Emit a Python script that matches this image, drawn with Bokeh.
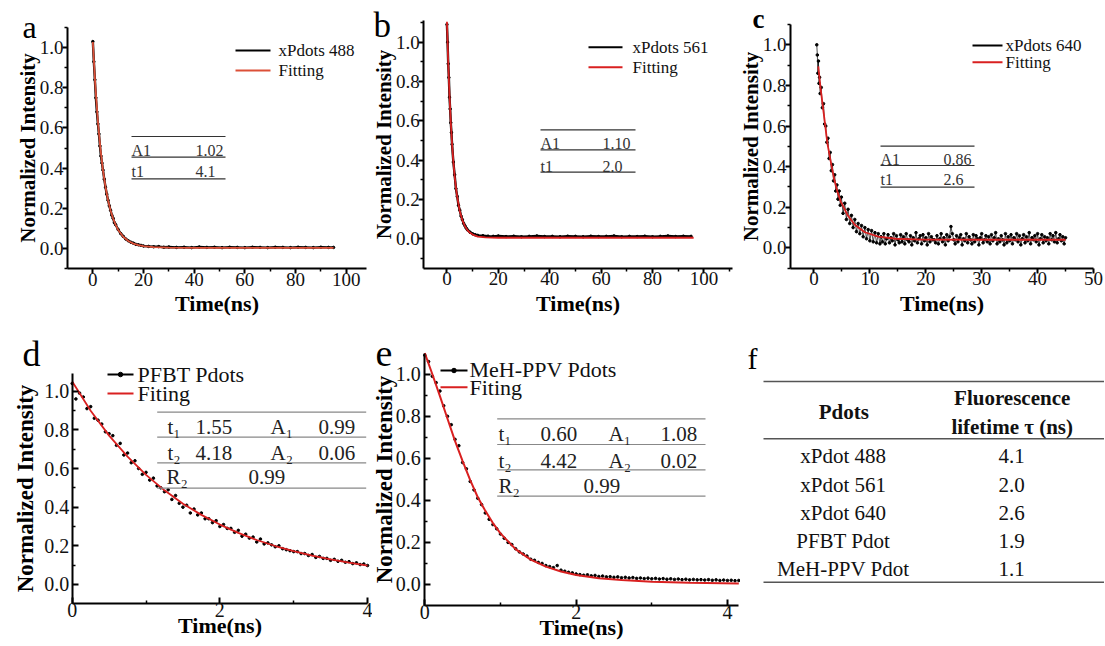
from bokeh.plotting import figure
from bokeh.layouts import row, column
from bokeh.models import Range1d, FixedTicker, PrintfTickFormatter
from bokeh.core.properties import value
from bokeh.embed import file_html
from bokeh.resources import INLINE

SERIF = "Liberation Serif"

# ---------------- data ----------------
# panel a : xPdots 488
a_t = [0, 0.4, 0.8, 1.2, 1.6, 2.0, 2.4, 2.8, 3.2, 3.6, 4.0, 4.5, 5.0, 5.5, 6.0, 6.5, 7.0, 7.5, 8.0, 8.5,
       9.0, 10, 11, 12, 13, 14, 15, 16, 17, 18, 19, 20, 22, 24, 26, 28, 30, 33, 36, 39,
       42, 45, 48, 51, 54, 57, 60, 63, 66, 69, 72, 75, 78, 81, 84, 87, 90, 93, 95]
a_y = [1.03, 0.93, 0.84, 0.75, 0.68, 0.62, 0.57, 0.51, 0.46, 0.425, 0.39, 0.345, 0.305, 0.27, 0.24, 0.212, 0.19, 0.165, 0.15, 0.128,
       0.118, 0.094, 0.074, 0.06, 0.047, 0.038, 0.031, 0.026, 0.02, 0.018, 0.015, 0.012, 0.01, 0.008, 0.009, 0.006, 0.007, 0.005, 0.006, 0.004,
       0.007, 0.005, 0.006, 0.004, 0.006, 0.005, 0.004, 0.006, 0.005, 0.004, 0.006, 0.005, 0.004, 0.006, 0.005, 0.004, 0.006, 0.005, 0.005]
a_fit_t = [0, 1, 2, 3, 4, 5, 6, 7, 8, 9, 10, 12, 14, 16, 18, 20, 24, 30, 40, 60, 80, 95]
a_fit_y = [1.028, 0.806, 0.632, 0.496, 0.389, 0.306, 0.240, 0.189, 0.149, 0.117, 0.092, 0.058, 0.037, 0.024,
           0.016, 0.011, 0.006, 0.004, 0.003, 0.003, 0.003, 0.003]
a_param_names = ["A1", "t1"]
a_param_values = ["1.02", "4.1"]

# panel b : xPdots 561
b_t = [0, 0.25, 0.5, 0.75, 1.0, 1.25, 1.5, 1.75, 2.0, 2.5, 3.0, 3.5, 4.0, 4.5, 5.0, 5.5, 6.0, 6.5, 7.0, 7.5, 8.0,
       9, 10, 11, 12, 14, 16, 18, 20, 23, 26, 29, 32, 35, 38, 41, 44, 47, 50, 53, 56, 59, 62, 65, 68, 71, 74, 77,
       80, 83, 86, 89, 92, 95]
b_y = [1.09, 1.00, 0.89, 0.82, 0.72, 0.66, 0.59, 0.54, 0.48, 0.39, 0.325, 0.255, 0.215, 0.17, 0.145, 0.115, 0.097, 0.078, 0.066, 0.054, 0.045,
       0.033, 0.025, 0.02, 0.017, 0.015, 0.013, 0.012, 0.014, 0.011, 0.013, 0.01, 0.012, 0.014, 0.011, 0.012, 0.01, 0.013, 0.012, 0.01, 0.013,
       0.011, 0.012, 0.014, 0.01, 0.012, 0.011, 0.013, 0.01, 0.012, 0.014, 0.011, 0.013, 0.012]
b_fit_t = [0, 0.5, 1, 1.5, 2, 2.5, 3, 3.5, 4, 5, 6, 7, 8, 9, 10, 12, 15, 20, 40, 60, 80, 96]
b_fit_y = [1.104, 0.897, 0.729, 0.593, 0.482, 0.392, 0.319, 0.260, 0.212, 0.141, 0.094, 0.064, 0.043, 0.030,
           0.021, 0.011, 0.007, 0.005, 0.005, 0.005, 0.005, 0.005]
b_param_names = ["A1", "t1"]
b_param_values = ["1.10", "2.0"]

# panel c : xPdots 640 (decay part, then the noisy plateau)
c_t = [0.5, 0.6, 0.7, 0.8, 0.9, 1.0, 1.1, 1.3, 1.5, 1.7, 1.9, 2.1, 2.3, 2.5, 2.7, 2.9, 3.1, 3.3, 3.5, 3.7,
       3.9, 4.1, 4.3, 4.5, 4.7, 4.9, 5.2, 5.5, 5.8, 6.1, 6.4, 6.7, 7.0, 7.3, 7.6, 7.9, 8.2, 8.5, 8.8, 9.1,
       9.4, 9.7, 10.0, 10.3, 10.6, 10.9, 11.2, 11.5, 11.8]
c_y = [1.00, 0.95, 0.86, 0.92, 0.81, 0.84, 0.76, 0.79, 0.69, 0.71, 0.61, 0.60, 0.52, 0.54, 0.44, 0.47, 0.38, 0.41, 0.33, 0.36,
       0.28, 0.31, 0.24, 0.28, 0.21, 0.25, 0.17, 0.22, 0.14, 0.19, 0.12, 0.16, 0.10, 0.14, 0.08, 0.12, 0.07, 0.11, 0.055, 0.10,
       0.045, 0.09, 0.035, 0.085, 0.03, 0.075, 0.025, 0.07, 0.02]
c_tail_t = [12.0, 12.25, 12.5, 12.75, 13.0, 13.25, 13.5, 13.75, 14.0, 14.25,
            14.5, 14.75, 15.0, 15.25, 15.5, 15.75, 16.0, 16.25, 16.5, 16.75,
            17.0, 17.25, 17.5, 17.75, 18.0, 18.25, 18.5, 18.75, 19.0, 19.25,
            19.5, 19.75, 20.0, 20.25, 20.5, 20.75, 21.0, 21.25, 21.5, 21.75,
            22.0, 22.25, 22.5, 22.75, 23.0, 23.25, 23.5, 23.75, 24.0, 24.25,
            24.5, 24.75, 25.0, 25.25, 25.5, 25.75, 26.0, 26.25, 26.5, 26.75,
            27.0, 27.25, 27.5, 27.75, 28.0, 28.25, 28.5, 28.75, 29.0, 29.25,
            29.5, 29.75, 30.0, 30.25, 30.5, 30.75, 31.0, 31.25, 31.5, 31.75,
            32.0, 32.25, 32.5, 32.75, 33.0, 33.25, 33.5, 33.75, 34.0, 34.25,
            34.5, 34.75, 35.0, 35.25, 35.5, 35.75, 36.0, 36.25, 36.5, 36.75,
            37.0, 37.25, 37.5, 37.75, 38.0, 38.25, 38.5, 38.75, 39.0, 39.25,
            39.5, 39.75, 40.0, 40.25, 40.5, 40.75, 41.0, 41.25, 41.5, 41.75,
            42.0, 42.25, 42.5, 42.75, 43.0, 43.25, 43.5, 43.75, 44.0, 44.25,
            44.5, 44.75, 45.0]
c_tail_y = [0.055, 0.03, 0.07, 0.02, 0.045, 0.065, 0.025, 0.05, 0.035, 0.07,
            0.015, 0.06, 0.04, 0.025, 0.065, 0.03, 0.055, 0.02, 0.07, 0.04,
            0.03, 0.06, 0.015, 0.05, 0.035, 0.075, 0.025, 0.045, 0.06, 0.02,
            0.065, 0.035, 0.05, 0.015, 0.07, 0.03, 0.055, 0.04, 0.04, 0.025,
            0.06, 0.02, 0.045, 0.07, 0.03, 0.05, 0.015, 0.065, 0.035, 0.055,
            0.105, 0.07, 0.04, 0.02, 0.06, 0.03, 0.05, 0.065, 0.015, 0.045,
            0.035, 0.07, 0.025, 0.055, 0.04, 0.02, 0.065, 0.03, 0.06, 0.045,
            0.015, 0.05, 0.07, 0.025, 0.04, 0.06, 0.03, 0.055, 0.02, 0.065,
            0.035, 0.05, 0.075, 0.02, 0.045, 0.03, 0.06, 0.04, 0.015, 0.07,
            0.025, 0.055, 0.035, 0.065, 0.02, 0.05, 0.04, 0.07, 0.03, 0.06,
            0.015, 0.045, 0.065, 0.025, 0.055, 0.035, 0.075, 0.02, 0.05, 0.04,
            0.06, 0.03, 0.07, 0.015, 0.045, 0.065, 0.025, 0.055, 0.035, 0.05,
            0.02, 0.07, 0.04, 0.06, 0.03, 0.075, 0.025, 0.045, 0.065, 0.035,
            0.055, 0.02, 0.05]
c_fit_t = [0.77, 1.2, 1.8, 2.4, 3.0, 3.6, 4.2, 4.8, 6.0, 7.3, 9.1, 11.5, 14.6, 19.5, 30, 45]
c_fit_y = [0.894, 0.78, 0.65, 0.515, 0.425, 0.34, 0.276, 0.228, 0.162, 0.114, 0.077, 0.056, 0.045, 0.041, 0.04, 0.04]
c_param_names = ["A1", "t1"]
c_param_values = ["0.86", "2.6"]

# panel d : PFBT Pdots
d_t = [0.0, 0.05, 0.1, 0.15, 0.2, 0.25, 0.3, 0.35, 0.4, 0.45, 0.5, 0.55, 0.6, 0.65, 0.7, 0.75, 0.8, 0.85, 0.9, 0.95,
       1.0, 1.05, 1.1, 1.15, 1.2, 1.25, 1.3, 1.35, 1.4, 1.45, 1.5, 1.55, 1.6, 1.65, 1.7, 1.75, 1.8, 1.85, 1.9, 1.95,
       2.0, 2.05, 2.1, 2.15, 2.2, 2.25, 2.3, 2.35, 2.4, 2.45, 2.5, 2.55, 2.6, 2.65, 2.7, 2.75, 2.8, 2.85, 2.9, 2.95,
       3.0, 3.05, 3.1, 3.15, 3.2, 3.25, 3.3, 3.35, 3.4, 3.45, 3.5, 3.55, 3.6, 3.65, 3.7, 3.75, 3.8, 3.85, 3.9, 3.95, 4.0]
d_y = [1.04, 0.96, 0.99, 0.97, 0.91, 0.92, 0.86, 0.85, 0.83, 0.79, 0.78, 0.77, 0.72, 0.73, 0.67, 0.68, 0.63, 0.64, 0.60, 0.57,
       0.58, 0.54, 0.55, 0.51, 0.50, 0.48, 0.49, 0.44, 0.46, 0.42, 0.40, 0.41, 0.37, 0.39, 0.36, 0.37, 0.34, 0.34, 0.32, 0.33,
       0.30, 0.31, 0.29, 0.29, 0.27, 0.28, 0.25, 0.26, 0.24, 0.245, 0.22, 0.235, 0.21, 0.215, 0.205, 0.195, 0.2, 0.185, 0.18, 0.175,
       0.17, 0.17, 0.16, 0.16, 0.15, 0.155, 0.14, 0.145, 0.135, 0.135, 0.125, 0.13, 0.12, 0.125, 0.115, 0.118, 0.108, 0.112, 0.103, 0.106, 0.098]
d_fit_t = [0, 0.25, 0.5, 0.75, 1.0, 1.25, 1.5, 1.75, 2.0, 2.25, 2.5, 2.75, 3.0, 3.25, 3.5, 3.75, 4.0]
d_fit_y = [1.050, 0.899, 0.770, 0.661, 0.567, 0.487, 0.418, 0.360, 0.310, 0.267, 0.230, 0.199, 0.172, 0.149, 0.130, 0.113, 0.098]
d_params = [["t\u2081", "1.55", "A\u2081", "0.99"], ["t\u2082", "4.18", "A\u2082", "0.06"], ["R\u2082", "0.99"]]

# panel e : MeH-PPV Pdots
e_t = [0.0, 0.05, 0.1, 0.15, 0.2, 0.25, 0.3, 0.35, 0.4, 0.45, 0.5, 0.55, 0.6, 0.65, 0.7, 0.75, 0.8, 0.85, 0.9, 0.95,
       1.0, 1.05, 1.1, 1.15, 1.2, 1.25, 1.3, 1.35, 1.4, 1.45, 1.5, 1.55, 1.6, 1.65, 1.7, 1.75, 1.8, 1.85, 1.9, 1.95,
       2.0, 2.05, 2.1, 2.15, 2.2, 2.25, 2.3, 2.35, 2.4, 2.45, 2.5, 2.55, 2.6, 2.65, 2.7, 2.75, 2.8, 2.85, 2.9, 2.95,
       3.0, 3.05, 3.1, 3.15, 3.2, 3.25, 3.3, 3.35, 3.4, 3.45, 3.5, 3.55, 3.6, 3.65, 3.7, 3.75, 3.8, 3.85, 3.9, 3.95,
       4.0, 4.05, 4.1, 4.15]
e_y = [1.09, 1.06, 0.99, 0.96, 0.92, 0.85, 0.80, 0.76, 0.69, 0.66, 0.58, 0.55, 0.49, 0.45, 0.41, 0.38, 0.34, 0.31, 0.285, 0.265,
       0.24, 0.22, 0.2, 0.19, 0.17, 0.155, 0.145, 0.135, 0.12, 0.115, 0.105, 0.1, 0.09, 0.085, 0.08, 0.09, 0.068, 0.063, 0.058, 0.055,
       0.05, 0.047, 0.044, 0.046, 0.041, 0.043, 0.038, 0.04, 0.036, 0.037, 0.034, 0.036, 0.032, 0.034, 0.031, 0.033, 0.029, 0.031, 0.028, 0.03,
       0.027, 0.029, 0.026, 0.028, 0.025, 0.027, 0.024, 0.026, 0.023, 0.025, 0.022, 0.024, 0.022, 0.023, 0.021, 0.023, 0.02, 0.022, 0.019, 0.021,
       0.019, 0.02, 0.018, 0.019]
e_fit_t = [0, 0.1, 0.2, 0.3, 0.4, 0.5, 0.6, 0.7, 0.8, 0.9, 1.0, 1.2, 1.4, 1.6, 1.8, 2.0, 2.3, 2.6, 3.0, 3.5, 4.15]
e_fit_y = [1.10, 1.00, 0.896, 0.788, 0.682, 0.587, 0.496, 0.415, 0.35, 0.292, 0.243, 0.168, 0.118, 0.085, 0.062,
           0.045, 0.030, 0.021, 0.013, 0.008, 0.005]
e_params = [["t\u2081", "0.60", "A\u2081", "1.08"], ["t\u2082", "4.42", "A\u2082", "0.02"], ["R\u2082", "0.99"]]

# panel f : table
pdot_names = ["xPdot 488", "xPdot 561", "xPdot 640", "PFBT Pdot", "MeH-PPV Pdot"]
pdot_lifetimes = [4.1, 2.0, 2.6, 1.9, 1.1]

series_names = ["xPdots 488", "xPdots 561", "xPdots 640", "PFBT Pdots", "MeH-PPV Pdots"]

# ---------------- geometry ----------------
# figure extent on the page (x0, x1, y0, y1) and axis box on the page (L, R, T, B) with its data ranges
FIG = {
    "a": (0, 368, 0, 316), "b": (368, 735, 0, 316), "c": (735, 1104, 0, 316),
    "d": (0, 372, 316, 645), "e": (372, 740, 316, 645),
}
FR = {
    "a": (67, 366, 27, 268, -10, 108, -0.1, 1.1),
    "b": (423.3, 731.7, 20, 267.7, -9, 111, -0.15, 1.11),
    "c": (790, 1093, 24, 267.7, -4.2, 50, -0.1, 1.1),
    "d": (71.7, 367, 373.3, 603.3, 0, 4, -0.1, 1.09),
    "e": (424.3, 738.3, 352.7, 605, 0, 4.15, -0.1, 1.1),
}
MAP = {}


def make_panel(key, xticks, xminor, yticks, yminor, top):
    fx0, fx1, fy0, fy1 = FIG[key]
    L, R, T, B, x0, x1, y0, y1 = FR[key]
    sx = (x1 - x0) / (R - L)
    sy = (y1 - y0) / (B - T)
    xs, xe = x0 - (L - fx0) * sx, x1 + (fx1 - R) * sx
    ys, ye = y0 - (fy1 - B) * sy, y1 + (T - fy0) * sy
    MAP[key] = (lambda px: xs + (px - fx0) * sx, lambda py: ye - (py - fy0) * sy)
    p = figure(width=fx1 - fx0, height=fy1 - fy0, x_range=Range1d(xs, xe), y_range=Range1d(ys, ye),
               output_backend="svg", toolbar_location=None,
               min_border_left=0, min_border_right=0, min_border_top=0, min_border_bottom=0,
               background_fill_color="white", border_fill_color="white")
    p.grid.visible = False
    p.outline_line_color = None
    p.xaxis.fixed_location = y0
    p.xaxis.bounds = (x0, x1)
    p.yaxis.fixed_location = x0
    p.yaxis.bounds = (y0, y1)
    p.xaxis.ticker = FixedTicker(ticks=xticks, minor_ticks=xminor)
    p.yaxis.ticker = FixedTicker(ticks=yticks, minor_ticks=yminor)
    p.xaxis.formatter = PrintfTickFormatter(format="%d")
    p.yaxis.formatter = PrintfTickFormatter(format="%.1f")
    p.xaxis.axis_label = "Time(ns)"
    p.yaxis.axis_label = "Normalized Intensity"
    for ax in [p.xaxis[0], p.yaxis[0]]:
        ax.axis_line_width = 2
        ax.axis_line_color = "black"
        ax.major_tick_line_width = 2
        ax.minor_tick_line_width = 1.5
        ax.major_tick_line_color = "black"
        ax.minor_tick_line_color = "black"
        ax.major_label_text_font = SERIF
        ax.major_label_text_color = "#111111"
        ax.axis_label_text_font = SERIF
        ax.axis_label_text_font_style = "bold"
        ax.axis_label_text_color = "black"
        if top:
            ax.major_tick_out, ax.major_tick_in = 5, 0
            ax.minor_tick_out, ax.minor_tick_in = 3, 0
            ax.major_label_text_font_size = "19px"
        else:
            ax.major_tick_out, ax.major_tick_in = 0, 6
            ax.minor_tick_out, ax.minor_tick_in = 0, 3
            ax.major_label_text_font_size = "20px"
    if top:
        p.xaxis.major_label_standoff = -1
        p.xaxis.axis_label_standoff = 2
        p.xaxis.axis_label_text_font_size = "22px"
        p.yaxis.major_label_standoff = -1
        p.yaxis.axis_label_standoff = -3
        p.yaxis.axis_label_text_font_size = "21px"
    else:
        p.xaxis.major_label_standoff = -1
        p.xaxis.axis_label_standoff = -7
        p.xaxis.axis_label_text_font_size = "22px"
        p.yaxis.major_label_standoff = 3 if key == "d" else 4
        p.yaxis.axis_label_standoff = 4 if key == "d" else -4
        p.yaxis.axis_label_text_font_size = "23px"
    return p


def texts(p, key, xs, ys, labels, size, color="#111111", align="left", style="normal"):
    fx, fy = MAP[key]
    p.text(x=[fx(x) for x in xs], y=[fy(y) for y in ys], text=labels, text_font=value(SERIF),
           text_font_size=f"{size}px", text_font_style=style, text_color=color,
           text_baseline="middle", text_align=align)


def hlines(p, key, ys, x0, x1, color, width):
    fx, fy = MAP[key]
    n = len(ys)
    p.segment(x0=[fx(x0)] * n, y0=[fy(y) for y in ys], x1=[fx(x1)] * n, y1=[fy(y) for y in ys],
              line_color=color, line_width=width)


def legend(p, key, x0, x1, xt, ys, tys, labels, colors, size, dots=False):
    fx, fy = MAP[key]
    p.segment(x0=[fx(x0)] * len(ys), y0=[fy(y) for y in ys], x1=[fx(x1)] * len(ys), y1=[fy(y) for y in ys],
              line_color=colors, line_width=2)
    if dots:
        p.scatter(x=[fx((x0 + x1) / 2)], y=[fy(ys[0])], size=4.5, color=colors[0])
    texts(p, key, [xt] * len(ys), tys, labels, size)


yt = [0.0, 0.2, 0.4, 0.6, 0.8, 1.0]
ym = [-0.1, 0.1, 0.3, 0.5, 0.7, 0.9, 1.1]
ym2 = [0.1, 0.3, 0.5, 0.7, 0.9]

RED_A = "#dc5038"
RED = "#d92020"

# ---- panel a
pa = make_panel("a", [0, 20, 40, 60, 80, 100], [10, 30, 50, 70, 90], yt, ym, True)
pa.line(a_t, a_y, line_color="black", line_width=2.4)
pa.scatter(a_t, a_y, size=2.5, color="black")
pa.line(a_fit_t, a_fit_y, line_color=RED_A, line_width=1.8)
legend(pa, "a", 235, 270, 278, [50, 70], [49.5, 70], [series_names[0], "Fitting"], ["black", RED_A], 17)
hlines(pa, "a", [136, 156.7, 178.3], 131, 225, "#333333", 1.2)
texts(pa, "a", [131, 195, 131, 195], [150.3, 150.3, 170.5, 170.5],
      [a_param_names[0], a_param_values[0], a_param_names[1], a_param_values[1]], 16, "#333333")
texts(pa, "a", [22], [26.5], ["a"], 32, "black")

# ---- panel b
pb = make_panel("b", [0, 20, 40, 60, 80, 100], [10, 30, 50, 70, 90, 110], yt, ym, True)
pb.line(b_t, b_y, line_color="black", line_width=2.4)
pb.scatter(b_t, b_y, size=2.5, color="black")
pb.line(b_fit_t, b_fit_y, line_color=RED, line_width=1.8)
legend(pb, "b", 588, 622, 632, [46.7, 66.7], [46.5, 66.5], [series_names[1], "Fitting"], ["black", RED], 17)
hlines(pb, "b", [129.3, 149.3, 171.7], 540, 635, "#333333", 1.2)
texts(pb, "b", [540, 602, 540, 602], [143, 143, 166, 166],
      [b_param_names[0], b_param_values[0], b_param_names[1], b_param_values[1]], 16, "#333333")
texts(pb, "b", [373], [25], ["b"], 35, "black")

# ---- panel c
pc = make_panel("c", [0, 10, 20, 30, 40, 50], [5, 15, 25, 35, 45], yt, ym, True)
pc.line(c_t + c_tail_t, c_y + c_tail_y, line_color="black", line_width=0.7)
pc.scatter(c_t + c_tail_t, c_y + c_tail_y, size=2.6, color="black")
pc.line(c_fit_t, c_fit_y, line_color=RED, line_width=1.8)
legend(pc, "c", 972, 1002, 1005, [45, 61.7], [45, 61.7], [series_names[2], "Fitting"], ["black", RED], 17)
hlines(pc, "c", [145.7, 165, 186.7], 880, 974, "#333333", 1.2)
texts(pc, "c", [880, 943, 880, 943], [158.7, 158.7, 178.5, 178.5],
      [c_param_names[0], c_param_values[0], c_param_names[1], c_param_values[1]], 16, "#333333")
texts(pc, "c", [752], [18.5], ["c"], 27, "black", style="bold")

# ---- panel d
pd_ = make_panel("d", [0, 2, 4], [1, 3], yt, ym2, False)
pd_.scatter(d_t, d_y, size=2.6, color="black")
pd_.line(d_fit_t, d_fit_y, line_color=RED, line_width=1.8)
legend(pd_, "d", 107, 133, 137, [374, 393], [373.5, 393], [series_names[3], "Fiting"], ["black", RED], 22, dots=True)
hlines(pd_, "d", [411.7, 436.7, 462.3, 487.7], 156.7, 365.7, "#888888", 1.2)
texts(pd_, "d", [167, 195, 270, 318, 167, 195, 270, 318, 166, 248],
      [426.5, 426.5, 426.5, 426.5, 452, 452, 452, 452, 476.7, 476.7],
      d_params[0] + d_params[1] + d_params[2], 21, "#222222")
texts(pd_, "d", [22], [353], ["d"], 36, "black")

# ---- panel e
pe = make_panel("e", [0, 2, 4], [1, 3], yt, ym2, False)
pe.scatter(e_t, e_y, size=2.6, color="black")
pe.line(e_fit_t, e_fit_y, line_color=RED, line_width=2)
legend(pe, "e", 440, 467, 469, [370, 386.7], [369, 386.5], [series_names[4], "Fiting"], ["black", RED], 22, dots=True)
hlines(pe, "e", [418.3, 444, 469.3, 495.7], 496.7, 705, "#888888", 1.2)
texts(pe, "e", [498, 540, 608, 660, 498, 540, 608, 660, 498, 583],
      [433.3, 433.3, 433.3, 433.3, 460, 460, 460, 460, 485.3, 485.3],
      e_params[0] + e_params[1] + e_params[2], 21, "#222222")
texts(pe, "e", [375], [353], ["e"], 38, "black")

# ---- panel f (table, page-pixel coordinates)
pf = figure(width=364, height=329, x_range=Range1d(740, 1104), y_range=Range1d(645, 316),
            x_axis_type=None, y_axis_type=None, output_backend="svg", toolbar_location=None,
            min_border_left=0, min_border_right=0, min_border_top=0, min_border_bottom=0,
            background_fill_color="white", border_fill_color="white")
pf.outline_line_color = None
pf.segment(x0=[763, 763, 763], y0=[381, 438.3, 581.7], x1=[1105, 1105, 1105], y1=[381, 438.3, 581.7],
           line_color="#555555", line_width=1.6)
pf.text(x=[843.3, 1011.7, 1011.7], y=[411.7, 397.3, 426.7], text=["Pdots", "Fluorescence", "lifetime \u03c4 (ns)"],
        text_font=value(SERIF), text_font_style="bold", text_font_size="21px", text_color="#111111",
        text_align="center", text_baseline="middle")
row_y = [455.7, 484, 512.3, 540, 568.3]
pf.text(x=[842.7] * len(pdot_names), y=row_y, text=pdot_names, text_font=value(SERIF), text_font_size="21px",
        text_color="#111111", text_align="center", text_baseline="middle")
pf.text(x=[1011] * len(pdot_lifetimes), y=row_y, text=[f"{v:.1f}" for v in pdot_lifetimes], text_font=value(SERIF),
        text_font_size="21px", text_color="#111111", text_align="center", text_baseline="middle")
pf.text(x=[747], y=[357.5], text=["f"], text_font=value(SERIF), text_font_size="30px", text_color="black",
        text_align="left", text_baseline="middle")

layout = column(row(pa, pb, pc), row(pd_, pe, pf))

open("out.html", "w").write(file_html(layout, INLINE, "Fluorescence lifetime"))
